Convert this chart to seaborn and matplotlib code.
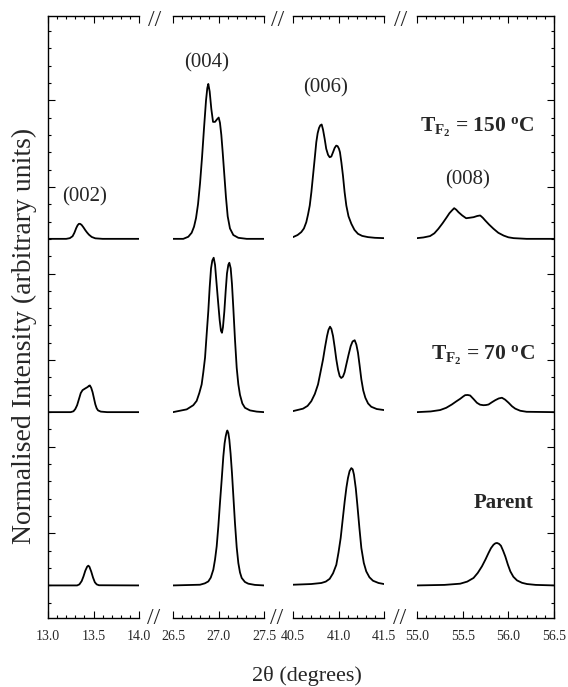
import numpy as np
import pandas as pd
import matplotlib
matplotlib.use("Agg")
import matplotlib.pyplot as plt
import seaborn as sns
from matplotlib.ticker import MultipleLocator, FormatStrFormatter

# ---------------- data ----------------
samples = ["Parent", "70", "150"]
sample_offsets = [0.2, 1.2, 2.2]

panel_ranges = [(13.0, 14.0), (26.5, 27.5), (40.5, 41.5), (55.0, 56.5)]
reflections = ["(002)", "(004)", "(006)", "(008)"]

# (002)
x150_002 = [13.0, 13.2, 13.24, 13.27, 13.29, 13.31, 13.325, 13.34, 13.355, 13.37, 13.39, 13.41, 13.43, 13.45,
            13.48, 13.52, 13.6, 14.0]
y150_002 = [0, 0, 0.004, 0.015, 0.035, 0.062, 0.078, 0.087, 0.086, 0.080, 0.066, 0.05, 0.036, 0.024,
            0.011, 0.003, 0, 0]
x70_002 = [13.0, 13.25, 13.28, 13.30, 13.32, 13.34, 13.36, 13.38, 13.41, 13.436, 13.45, 13.46, 13.475,
           13.49, 13.505, 13.52, 13.535, 13.55, 13.58, 13.65, 14.0]
y70_002 = [0, 0, 0.005, 0.018, 0.04, 0.075, 0.11, 0.127, 0.137, 0.145, 0.152, 0.154, 0.14,
           0.115, 0.08, 0.045, 0.022, 0.01, 0.003, 0, 0]
xP_002 = [13.0, 13.32, 13.345, 13.37, 13.39, 13.41, 13.43, 13.443, 13.455, 13.475, 13.495, 13.515, 13.535,
          13.56, 14.0]
yP_002 = [0, 0, 0.006, 0.025, 0.052, 0.085, 0.108, 0.114, 0.108, 0.08, 0.045, 0.018, 0.006,
          0.001, 0]

# (004)
x150_004 = [26.5, 26.613, 26.668, 26.705, 26.731, 26.753, 26.775, 26.797, 26.819, 26.841, 26.863, 26.877,
            26.888, 26.903, 26.921, 26.940, 26.962, 26.984, 27.002, 27.016, 27.031, 27.046, 27.064, 27.082,
            27.101, 27.126, 27.163, 27.218, 27.31, 27.5]
y150_004 = [0, 0, 0.012, 0.035, 0.07, 0.12, 0.2, 0.32, 0.47, 0.64, 0.80, 0.87,
            0.894, 0.85, 0.75, 0.675, 0.675, 0.69, 0.70, 0.67, 0.60, 0.50, 0.37, 0.24,
            0.13, 0.06, 0.022, 0.006, 0, 0]
x70_004 = [26.5, 26.651, 26.723, 26.760, 26.789, 26.815, 26.833, 26.852, 26.870, 26.888, 26.903, 26.918,
           26.932, 26.947, 26.962, 26.976, 26.995, 27.013, 27.027, 27.038, 27.049, 27.064, 27.079, 27.093,
           27.108, 27.119, 27.134, 27.148, 27.163, 27.181, 27.2, 27.218, 27.236, 27.262, 27.291, 27.346,
           27.42, 27.5]
y70_004 = [0, 0.016, 0.04, 0.065, 0.11, 0.16, 0.23, 0.314, 0.45, 0.583, 0.72, 0.83,
           0.875, 0.891, 0.85, 0.76, 0.64, 0.53, 0.47, 0.458, 0.49, 0.58, 0.70, 0.80,
           0.85, 0.862, 0.83, 0.74, 0.60, 0.42, 0.256, 0.16, 0.10, 0.05, 0.025, 0.01,
           0.003, 0]
xP_004 = [26.5, 26.797, 26.85, 26.888, 26.915, 26.943, 26.962, 26.980, 26.998, 27.016, 27.035, 27.053,
          27.067, 27.079, 27.090, 27.097, 27.108, 27.119, 27.133, 27.148, 27.165, 27.181, 27.2, 27.218,
          27.236, 27.255, 27.29, 27.327, 27.4, 27.5]
yP_004 = [0, 0.004, 0.012, 0.023, 0.045, 0.091, 0.15, 0.225, 0.34, 0.475, 0.61, 0.744,
          0.82, 0.860, 0.885, 0.894, 0.88, 0.841, 0.76, 0.649, 0.50, 0.360, 0.22, 0.129,
          0.075, 0.043, 0.02, 0.010, 0.003, 0]

# (006)
x150_006 = [40.5, 40.55, 40.591, 40.62, 40.646, 40.665, 40.684, 40.702, 40.720, 40.738, 40.756, 40.771,
            40.786, 40.80, 40.815, 40.83, 40.848, 40.865, 40.885, 40.903, 40.921, 40.94, 40.958, 40.975,
            40.99, 41.005, 41.016, 41.032, 41.049, 41.067, 41.086, 41.11, 41.141, 41.175, 41.214, 41.26,
            41.324, 41.4, 41.5]
y150_006 = [0.010, 0.022, 0.039, 0.06, 0.096, 0.14, 0.192, 0.27, 0.365, 0.46, 0.558, 0.61,
            0.640, 0.655, 0.660, 0.63, 0.577, 0.52, 0.485, 0.471, 0.475, 0.50, 0.525, 0.538,
            0.535, 0.52, 0.50, 0.44, 0.365, 0.27, 0.192, 0.13, 0.087, 0.052, 0.029, 0.017,
            0.010, 0.006, 0.004]
x70_006 = [40.5, 40.610, 40.66, 40.701, 40.74, 40.775, 40.80, 40.830, 40.852, 40.874, 40.89, 40.907,
           40.922, 40.940, 40.958, 40.976, 40.995, 41.013, 41.03, 41.049, 41.067, 41.086, 41.11, 41.134,
           41.155, 41.178, 41.196, 41.214, 41.232, 41.251, 41.272, 41.295, 41.325, 41.360, 41.42, 41.5]
y70_006 = [0.006, 0.020, 0.036, 0.063, 0.105, 0.160, 0.225, 0.304, 0.375, 0.439, 0.475, 0.493,
           0.48, 0.439, 0.375, 0.304, 0.245, 0.208, 0.197, 0.205, 0.23, 0.275, 0.33, 0.381,
           0.408, 0.415, 0.39, 0.343, 0.27, 0.189, 0.125, 0.083, 0.05, 0.031, 0.018, 0.012]
xP_006 = [40.5, 40.7, 40.811, 40.86, 40.903, 40.94, 40.976, 41.0, 41.024, 41.046, 41.068, 41.087,
          41.104, 41.122, 41.141, 41.156, 41.170, 41.19, 41.207, 41.23, 41.251, 41.278, 41.305, 41.34,
          41.379, 41.44, 41.5]
yP_006 = [0.004, 0.008, 0.014, 0.022, 0.038, 0.07, 0.119, 0.19, 0.274, 0.38, 0.485, 0.565,
          0.620, 0.66, 0.677, 0.67, 0.639, 0.56, 0.466, 0.33, 0.216, 0.13, 0.081, 0.047,
          0.027, 0.014, 0.008]

# (008)
x150_008 = [55.0, 55.07, 55.143, 55.19, 55.234, 55.28, 55.326, 55.355, 55.381, 55.407, 55.43, 55.454,
            55.495, 55.538, 55.58, 55.619, 55.66, 55.692, 55.72, 55.747, 55.79, 55.838, 55.89, 55.948,
            56.0, 56.058, 56.2, 56.5]
y150_008 = [0.004, 0.008, 0.016, 0.032, 0.058, 0.09, 0.125, 0.148, 0.163, 0.177, 0.168, 0.154,
            0.135, 0.119, 0.122, 0.125, 0.132, 0.135, 0.122, 0.106, 0.082, 0.058, 0.035, 0.019,
            0.009, 0.004, 0, 0]
x70_008 = [55.0, 55.15, 55.253, 55.32, 55.381, 55.43, 55.473, 55.505, 55.527, 55.555, 55.582, 55.62,
           55.656, 55.69, 55.728, 55.755, 55.783, 55.82, 55.857, 55.895, 55.930, 55.965, 56.003, 56.04,
           56.076, 56.13, 56.2, 56.5]
y70_008 = [0, 0.004, 0.012, 0.025, 0.044, 0.062, 0.077, 0.09, 0.098, 0.099, 0.096, 0.075,
           0.054, 0.043, 0.040, 0.041, 0.044, 0.057, 0.069, 0.079, 0.083, 0.072, 0.054, 0.034,
           0.020, 0.008, 0.002, 0]
xP_008 = [55.0, 55.3, 55.473, 55.55, 55.619, 55.665, 55.711, 55.75, 55.783, 55.81, 55.838, 55.858,
          55.876, 55.898, 55.919, 55.943, 55.967, 55.995, 56.022, 56.055, 56.095, 56.15, 56.205, 56.3,
          56.5]
yP_008 = [0, 0.003, 0.010, 0.022, 0.043, 0.072, 0.110, 0.150, 0.187, 0.215, 0.235, 0.243,
          0.245, 0.240, 0.229, 0.2, 0.167, 0.12, 0.081, 0.05, 0.029, 0.015, 0.008, 0.003,
          0]

curves = {
    0: {"Parent": (xP_002, yP_002), "70": (x70_002, y70_002), "150": (x150_002, y150_002)},
    1: {"Parent": (xP_004, yP_004), "70": (x70_004, y70_004), "150": (x150_004, y150_004)},
    2: {"Parent": (xP_006, yP_006), "70": (x70_006, y70_006), "150": (x150_006, y150_006)},
    3: {"Parent": (xP_008, yP_008), "70": (x70_008, y70_008), "150": (x150_008, y150_008)},
}

rows = []
for p, d in curves.items():
    for s, off in zip(samples, sample_offsets):
        xs, ys = d[s]
        for xv, yv in zip(xs, ys):
            rows.append({"panel": p, "sample": s, "two_theta": xv, "y": yv + off})
df = pd.DataFrame(rows)

# ---------------- style ----------------
sns.set_style("ticks")
plt.rcParams["font.family"] = ["Liberation Serif", "DejaVu Serif"]
plt.rcParams["mathtext.fontset"] = "custom"
plt.rcParams["mathtext.rm"] = "Liberation Serif"
plt.rcParams["mathtext.bf"] = "Liberation Serif:bold"
plt.rcParams["mathtext.it"] = "Liberation Serif:italic"

W, H = 568, 687
fig = plt.figure(figsize=(W / 100, H / 100), dpi=100)

# panel pixel extents (left, right)
panel_px = [(48, 139), (173, 264), (293, 384), (417, 554)]
top_px, bot_px = 16, 618
ylim = (0.012, 3.486)

axes = []
for i, ((lo, hi), (l, r)) in enumerate(zip(panel_ranges, panel_px)):
    ax = fig.add_axes([l / W, (H - bot_px) / H, (r - l) / W, (bot_px - top_px) / H])
    sub = df[df.panel == i]
    for s in samples:
        ss = sub[sub["sample"] == s]
        sns.lineplot(data=ss, x="two_theta", y="y", ax=ax, color="black", lw=1.3,
                     estimator=None, sort=False)
    ax.set_xlim(lo, hi)
    ax.set_ylim(*ylim)
    ax.set_xlabel("")
    ax.set_ylabel("")
    ax.xaxis.set_major_locator(MultipleLocator(0.5))
    ax.xaxis.set_minor_locator(MultipleLocator(0.1))
    ax.xaxis.set_major_formatter(FormatStrFormatter("%.1f"))
    ax.yaxis.set_major_locator(MultipleLocator(0.5))
    ax.yaxis.set_minor_locator(MultipleLocator(0.1))
    for sp in ax.spines.values():
        sp.set_linewidth(1.0)
        sp.set_color("black")
    ax.spines["top"].set_visible(True)
    ax.spines["left"].set_visible(i == 0)
    ax.spines["right"].set_visible(i == 3)
    ax.tick_params(axis="x", which="both", direction="in", top=True, bottom=True,
                   labeltop=False, labelsize=10, pad=9, color="black", width=0.8)
    ax.tick_params(axis="x", which="major", length=5)
    ax.tick_params(axis="x", which="minor", length=2.5)
    ax.tick_params(axis="y", which="both", direction="in", left=(i == 0), right=(i == 3),
                   labelleft=False, labelright=False, color="black", width=0.8)
    ax.tick_params(axis="y", which="major", length=5)
    ax.tick_params(axis="y", which="minor", length=2.5)
    ax.patch.set_alpha(0)
    axes.append(ax)


def fx(px):
    return px / W


def fy(py):
    return 1 - py / H


# reflection labels
refl_pos = [(85, 197), (207, 63), (326, 88), (468, 180)]
for lab, (px, py) in zip(reflections, refl_pos):
    fig.text(fx(px), fy(py), lab, ha="center", va="center", fontsize=15)

# sample labels
fig.text(fx(535), fy(132), r"$\mathbf{T_{F_2}}$ = 150 $^{\mathbf{o}}$C", ha="right", va="baseline",
         fontsize=15.5, fontweight="bold")
fig.text(fx(535), fy(360), r"$\mathbf{T_{F_2}}$ = 70 $^{\mathbf{o}}$C", ha="right", va="baseline",
         fontsize=15.5, fontweight="bold")
fig.text(fx(534), fy(508), "Parent", ha="right", va="baseline", fontsize=15, fontweight="bold")

# axis labels
fig.text(fx(24), fy(336), "Normalised Intensity (arbitrary units)", rotation=90,
         ha="center", va="center", fontsize=20)
fig.text(fx(307), fy(676), "2θ (degrees)", ha="center", va="center", fontsize=16)

# break marks
for px in (155, 278, 401):
    fig.text(fx(px), fy(21), "//", ha="center", va="center", fontsize=17)
    fig.text(fx(px - 1), fy(619), "//", ha="center", va="center", fontsize=17)

fig.savefig("out.png", dpi=100)
